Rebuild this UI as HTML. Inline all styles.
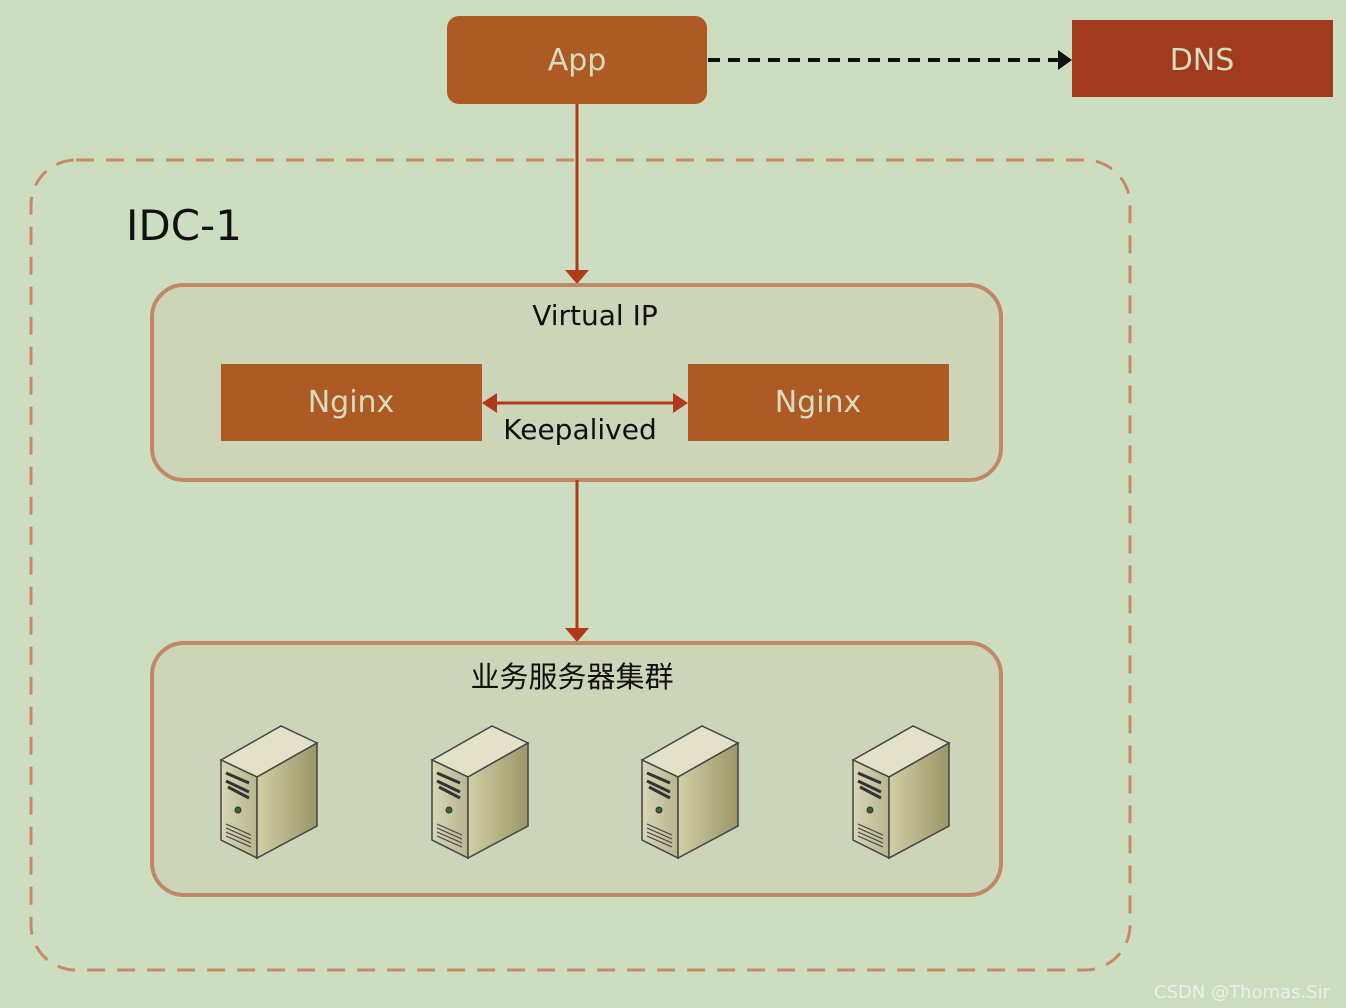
<!DOCTYPE html>
<html><head><meta charset="utf-8"><style>
html,body{margin:0;padding:0;background:#cddec0;}
svg{display:block;}
text{font-family:"DejaVu Sans","Liberation Sans","Noto Sans CJK SC",sans-serif;}
</style></head><body>
<svg width="1346" height="1008" viewBox="0 0 1346 1008" xmlns="http://www.w3.org/2000/svg">
<defs>
<linearGradient id="side" x1="0" y1="0" x2="1" y2="0"><stop offset="0" stop-color="#d2cfa6"/><stop offset="1" stop-color="#9a9668"/></linearGradient>
<linearGradient id="front" x1="0" y1="0" x2="1" y2="0"><stop offset="0" stop-color="#d8d6b6"/><stop offset="1" stop-color="#b8b590"/></linearGradient>
<g id="srv">
<polygon points="0,34 60,0 96,17 36,51" fill="#e3e2c8" stroke="#444" stroke-width="1.5"/>
<polygon points="0,34 36,51 36,132 0,114" fill="url(#front)" stroke="#444" stroke-width="1.5"/>
<polygon points="36,51 96,17 96,100 36,132" fill="url(#side)" stroke="#444" stroke-width="1.5"/>
<path d="M5,47 L28,57 M5,55 L28,66 M7,61 L28,72" stroke="#333" stroke-width="3"/>
<circle cx="17" cy="84" r="3" fill="#2f6a3a" stroke="#333"/>
<path d="M5,98 L30,109 M5,102 L30,113 M5,106 L30,117 M5,110 L30,121" stroke="#444" stroke-width="1.2"/>
</g>
</defs>
<rect width="1346" height="1008" fill="#cddec0"/>
<rect x="31" y="160" width="1099" height="810" rx="45" fill="none" stroke="#c88a66" stroke-width="3" stroke-dasharray="18,12"/>
<text x="126" y="240" font-size="42" fill="#111">IDC-1</text>
<rect x="447" y="16" width="260" height="88" rx="12" fill="#ae5a24"/>
<text x="577" y="70" font-size="30" fill="#d6dcbf" text-anchor="middle">App</text>
<rect x="1072" y="20" width="261" height="77" fill="#a23a1d"/>
<text x="1202" y="70" font-size="30" fill="#d6dcbf" text-anchor="middle">DNS</text>
<line x1="708" y1="60" x2="1060" y2="60" stroke="#111" stroke-width="4" stroke-dasharray="12,8"/>
<polygon points="1058,50 1072,60 1058,70" fill="#111"/>
<line x1="577" y1="104" x2="577" y2="272" stroke="#b2381a" stroke-width="3"/>
<polygon points="565,270 589,270 577,284" fill="#b2381a"/>
<rect x="152" y="285" width="849" height="195" rx="32" fill="#ccd5b7" stroke="#c08866" stroke-width="4"/>
<text x="595" y="325" font-size="28" fill="#111" text-anchor="middle">Virtual IP</text>
<rect x="221" y="364" width="261" height="77" fill="#ae5a24"/>
<text x="351" y="412" font-size="30" fill="#d6dcbf" text-anchor="middle">Nginx</text>
<rect x="688" y="364" width="261" height="77" fill="#ae5a24"/>
<text x="818" y="412" font-size="30" fill="#d6dcbf" text-anchor="middle">Nginx</text>
<line x1="494" y1="403" x2="676" y2="403" stroke="#b2381a" stroke-width="3"/>
<polygon points="482,403 497,393 497,413" fill="#b2381a"/>
<polygon points="688,403 673,393 673,413" fill="#b2381a"/>
<text x="580" y="439" font-size="28" fill="#111" text-anchor="middle">Keepalived</text>
<line x1="577" y1="480" x2="577" y2="630" stroke="#b2381a" stroke-width="3"/>
<polygon points="565,628 589,628 577,642" fill="#b2381a"/>
<rect x="152" y="643" width="849" height="252" rx="32" fill="#ccd5b7" stroke="#c08866" stroke-width="4"/>
<text x="572" y="687" font-size="29" fill="#111" text-anchor="middle" font-family="'Noto Sans CJK SC',sans-serif">业务服务器集群</text>
<use href="#srv" x="221" y="726"/>
<use href="#srv" x="432" y="726"/>
<use href="#srv" x="642" y="726"/>
<use href="#srv" x="853" y="726"/>
<text x="1330" y="998" font-size="18" fill="#eef0ea" text-anchor="end" font-family="'Liberation Sans',sans-serif">CSDN @Thomas.Sir</text>
</svg>
</body></html>
